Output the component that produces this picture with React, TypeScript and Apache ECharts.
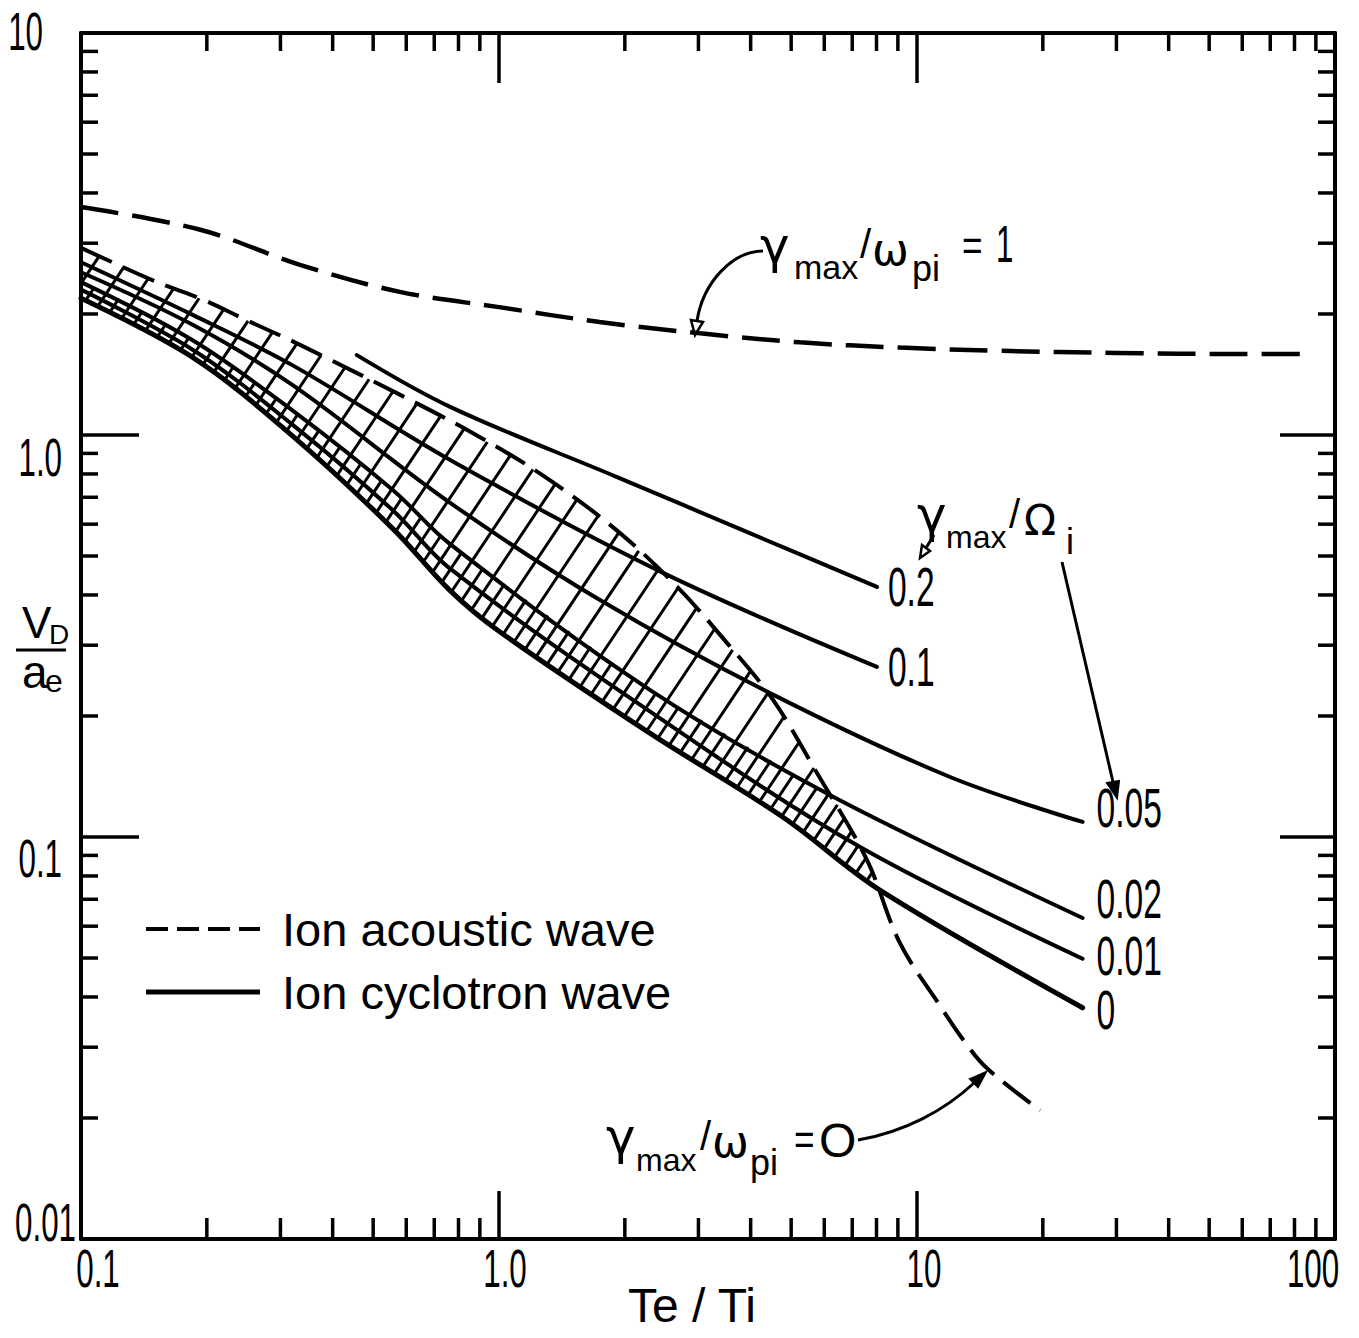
import React, { useEffect, useRef } from 'react';
import * as echarts from 'echarts';

// ---------- axis ticks ----------
const xMajorTicks = [0.1, 1, 10, 100];
const xTickLabels = ['0.1', '1.0', '10', '100'];
const yMajorTicks = [0.01, 0.1, 1, 10];
const yTickLabels = ['0.01', '0.1', '1.0', '10'];
const xMinorTicks = [0.2, 0.3, 0.4, 0.5, 0.6, 0.7, 0.8, 0.9, 2, 3, 4, 5, 6, 7, 8, 9, 20, 30, 40, 50, 60, 70, 80, 90];
const yMinorTicks = [0.02, 0.03, 0.04, 0.05, 0.06, 0.07, 0.08, 0.09, 0.2, 0.3, 0.4, 0.5, 0.6, 0.7, 0.8, 0.9, 2, 3, 4, 5, 6, 7, 8, 9];

// ---------- Ion acoustic wave, gamma_max/omega_pi = 1 ----------
const iaOneTeTi = [0.1, 0.193, 0.334, 0.579, 1.0, 1.74, 3.03, 5.25, 9.1, 15.8, 30, 60, 85];
const iaOneVd = [3.69, 3.24, 2.65, 2.27, 2.08, 1.91, 1.79, 1.7, 1.65, 1.62, 1.6, 1.59, 1.59];

// ---------- Ion acoustic wave, gamma_max/omega_pi = 0 ----------
const iaZeroTeTi = [0.1, 0.152, 0.196, 0.249, 0.321, 0.394, 0.579, 0.852, 1.27, 1.91, 2.67, 3.51, 4.53, 5.77, 7.59, 9.1, 11.4, 12.9, 14.7, 19.7];
const iaZeroVd = [2.92, 2.4, 2.17, 1.93, 1.71, 1.54, 1.26, 1.02, 0.795, 0.58, 0.419, 0.304, 0.219, 0.144, 0.0877, 0.0545, 0.0378, 0.0313, 0.0266, 0.0209];

// ---------- Ion cyclotron wave, gamma_max/Omega_i ----------
const icLabels = ['0.2', '0.1', '0.05', '0.02', '0.01', '0'];
const ic02TeTi = [0.457, 0.764, 1.91, 3.98, 8.02];
const ic02Vd = [1.58, 1.175, 0.787, 0.57, 0.419];
const ic01TeTi = [0.1, 0.185, 0.321, 0.764, 2.47, 8.02];
const ic01Vd = [2.69, 1.99, 1.49, 0.867, 0.454, 0.265];
const ic005TeTi = [0.1, 0.185, 0.321, 0.764, 1.74, 4.45, 12.0, 24.9];
const ic005Vd = [2.54, 1.88, 1.33, 0.678, 0.389, 0.228, 0.141, 0.109];
const ic002TeTi = [0.1, 0.185, 0.321, 0.557, 0.764, 2.3, 6.3, 24.9];
const ic002Vd = [2.4, 1.72, 1.15, 0.73, 0.535, 0.232, 0.126, 0.0629];
const ic001TeTi = [0.1, 0.185, 0.321, 0.557, 0.764, 2.3, 7.31, 24.9];
const ic001Vd = [2.3, 1.63, 1.06, 0.65, 0.465, 0.205, 0.0944, 0.0498];
const ic0TeTi = [0.1, 0.185, 0.321, 0.557, 0.764, 1.0, 2.3, 4.78, 8.15, 24.9];
const ic0Vd = [2.19, 1.56, 0.994, 0.585, 0.41, 0.325, 0.181, 0.112, 0.0738, 0.0376];

const zip = (xs: number[], ys: number[]) => xs.map((x, i) => [x, ys[i]]);

const FONT = "'Liberation Sans', Arial, sans-serif";
const GREEK = "'DejaVu Sans', 'Liberation Sans', sans-serif";

const HATCH_STEP = 32;
const HATCH_SLOPE = 1.5;

function clipLine(ax: number, ay: number, bx: number, by: number, poly: number[][]) {
  const dx = bx - ax, dy = by - ay;
  const ts: number[] = [];
  for (let i = 0; i < poly.length; i++) {
    const q = poly[i];
    const r = poly[(i + 1) % poly.length];
    const ex = r[0] - q[0], ey = r[1] - q[1];
    const den = dx * ey - dy * ex;
    if (Math.abs(den) < 1e-9) continue;
    const wx = q[0] - ax, wy = q[1] - ay;
    const t = (wx * ey - wy * ex) / den;
    const u = (wx * dy - wy * dx) / den;
    if (u >= 0 && u < 1) ts.push(t);
  }
  ts.sort((a, b) => a - b);
  const segs: number[][] = [];
  for (let i = 0; i + 1 < ts.length; i += 2) {
    const t0 = Math.max(0, ts[i]);
    const t1 = Math.min(1, ts[i + 1]);
    if (t1 > t0) segs.push([ax + dx * t0, ay + dy * t0, ax + dx * t1, ay + dy * t1]);
  }
  return segs;
}

function txt(text: string, x: number, y: number, size: number, family: string, align = 'left') {
  return {
    type: 'text',
    x,
    y,
    silent: true,
    style: {
      text,
      fill: '#000',
      fontSize: size,
      fontFamily: family,
      align,
      verticalAlign: 'middle',
      textAlign: align,
      textVerticalAlign: 'middle',
    },
  };
}

// narrow lettering, drawn as a text element squeezed horizontally
function narrowText(text: string, x: number, y: number, size: number, align: string, sx: number) {
  return {
    type: 'text',
    x,
    y,
    scaleX: sx,
    style: {
      text,
      fill: '#000',
      fontSize: size,
      fontFamily: FONT,
      align,
      verticalAlign: 'middle',
      textAlign: align,
      textVerticalAlign: 'middle',
    },
  };
}

function buildOption() {
  const regionPts = [
    ...zip(iaZeroTeTi, iaZeroVd).filter((p) => p[0] < 8),
    ...zip(ic0TeTi, ic0Vd).filter((p) => p[0] <= 8.15).reverse(),
  ];
  const bandPts = [
    ...zip(ic002TeTi, ic002Vd).filter((p) => p[0] <= 6.3),
    ...zip(iaZeroTeTi, iaZeroVd).filter((p) => p[0] > 6.3 && p[0] < 8),
    ...zip(ic0TeTi, ic0Vd).filter((p) => p[0] <= 8.15).reverse(),
  ];

  const black = '#000';
  const axisBase = {
    type: 'log',
    logBase: 10,
    splitLine: { show: false },
    axisLabel: { show: false },
    axisLine: { show: true, lineStyle: { color: black, width: 4 } },
  };

  const icData = [
    zip(ic02TeTi, ic02Vd),
    zip(ic01TeTi, ic01Vd),
    zip(ic005TeTi, ic005Vd),
    zip(ic002TeTi, ic002Vd),
    zip(ic001TeTi, ic001Vd),
    zip(ic0TeTi, ic0Vd),
  ];
  const icWidths = [4, 4, 4, 4, 4, 5];
  const icLabelShift = [[11, 0], [11, 0], [14, -14], [14, -19], [14, -3], [14, 2]];
  const icEnds = icData.map((d) => d[d.length - 1]);

  const xLabelShift = [17, 6, 7, -22];
  const yLabelShift = [[-5, -17], [-19, 21], [-19, 22], [-38, -2]];

  const icSeries = icData.map((data, i) => ({
    type: 'line',
    name: 'Ion cyclotron wave ' + icLabels[i],
    data,
    showSymbol: false,
    symbol: 'none',
    smooth: 0.35,
    silent: true,
    z: 3,
    lineStyle: { color: black, width: icWidths[i], cap: 'round', join: 'round' },
  }));

  const series: any[] = [
    {
      type: 'custom',
      name: 'hatch',
      coordinateSystem: 'cartesian2d',
      data: [[1, 1]],
      silent: true,
      z: 2,
      renderItem: (_params: any, api: any) => {
        const region = regionPts.map((p) => api.coord(p));
        const band = bandPts.map((p) => api.coord(p));
        const xs = region.map((p: number[]) => p[0]);
        const ys = region.map((p: number[]) => p[1]);
        const minX = Math.min(...xs) - 5;
        const maxX = Math.max(...xs) + 5;
        const minY = Math.min(...ys) - 5;
        const maxY = Math.max(...ys) + 5;
        const run = (maxY - minY) / HATCH_SLOPE;
        const children: any[] = [];
        const style = { stroke: black, lineWidth: 3 };
        let k = 0;
        for (let c = minX - run; c <= maxX; c += HATCH_STEP / 2, k++) {
          const poly = k % 2 === 0 ? region : band;
          for (const s of clipLine(c, maxY, c + run, minY, poly)) {
            children.push({ type: 'line', shape: { x1: s[0], y1: s[1], x2: s[2], y2: s[3] }, style });
          }
        }
        return { type: 'group', children };
      },
    },
    {
      type: 'line',
      name: 'Ion acoustic wave γmax/ωpi = 1',
      data: zip(iaOneTeTi, iaOneVd),
      showSymbol: false,
      symbol: 'none',
      smooth: 0.35,
      silent: true,
      z: 3,
      lineStyle: { color: black, width: 4.5, type: [38, 14], cap: 'butt' },
    },
    {
      type: 'line',
      name: 'Ion acoustic wave γmax/ωpi = 0',
      data: zip(iaZeroTeTi, iaZeroVd),
      showSymbol: false,
      symbol: 'none',
      smooth: 0.35,
      silent: true,
      z: 3,
      lineStyle: { color: black, width: 4, type: [34, 12], cap: 'butt' },
    },
    ...icSeries,
    {
      type: 'custom',
      name: 'curveLabels',
      coordinateSystem: 'cartesian2d',
      data: icEnds,
      silent: true,
      z: 6,
      renderItem: (params: any, api: any) => {
        const i = params.dataIndex;
        const p = api.coord([api.value(0), api.value(1)]);
        return narrowText(icLabels[i], p[0] + icLabelShift[i][0], p[1] + icLabelShift[i][1], 56, 'left', 0.6);
      },
    },
    {
      type: 'custom',
      name: 'xTickLabels',
      coordinateSystem: 'cartesian2d',
      data: xMajorTicks.map((v) => [v, yMajorTicks[0]]),
      silent: true,
      z: 6,
      renderItem: (params: any, api: any) => {
        const i = params.dataIndex;
        const p = api.coord([api.value(0), api.value(1)]);
        return narrowText(xTickLabels[i], p[0] + xLabelShift[i], p[1] + 29, 54, 'center', 0.58);
      },
    },
    {
      type: 'custom',
      name: 'yTickLabels',
      coordinateSystem: 'cartesian2d',
      data: yMajorTicks.map((v) => [xMajorTicks[0], v]),
      silent: true,
      z: 6,
      renderItem: (params: any, api: any) => {
        const i = params.dataIndex;
        const p = api.coord([api.value(0), api.value(1)]);
        return narrowText(yTickLabels[i], p[0] + yLabelShift[i][0], p[1] + yLabelShift[i][1], 54, 'right', 0.58);
      },
    },
    {
      type: 'custom',
      name: 'xMinorTicks',
      coordinateSystem: 'cartesian2d',
      data: xMinorTicks.map((v) => [v, 1]),
      silent: true,
      z: 5,
      renderItem: (_params: any, api: any) => {
        const v = api.value(0);
        const b = api.coord([v, yMajorTicks[0]]);
        const t = api.coord([v, yMajorTicks[yMajorTicks.length - 1]]);
        const st = { stroke: black, lineWidth: 3.5 };
        return {
          type: 'group',
          children: [
            { type: 'line', shape: { x1: b[0], y1: b[1], x2: b[0], y2: b[1] - 21 }, style: st },
            { type: 'line', shape: { x1: t[0], y1: t[1], x2: t[0], y2: t[1] + 18 }, style: st },
          ],
        };
      },
    },
    {
      type: 'custom',
      name: 'yMinorTicks',
      coordinateSystem: 'cartesian2d',
      data: yMinorTicks.map((v) => [1, v]),
      silent: true,
      z: 5,
      renderItem: (_params: any, api: any) => {
        const v = api.value(1);
        const l = api.coord([xMajorTicks[0], v]);
        const r = api.coord([xMajorTicks[xMajorTicks.length - 1], v]);
        const st = { stroke: black, lineWidth: 3.5 };
        return {
          type: 'group',
          children: [
            { type: 'line', shape: { x1: l[0], y1: l[1], x2: l[0] + 17, y2: l[1] }, style: st },
            { type: 'line', shape: { x1: r[0], y1: r[1], x2: r[0] - 17, y2: r[1] }, style: st },
          ],
        };
      },
    },
  ];

  const graphicEls: any[] = [
    // gamma_max / omega_pi = 1
    txt('γ', 760, 246, 50, GREEK),
    txt('max', 794, 267, 34, FONT),
    txt('/', 860, 244, 40, FONT),
    txt('ω', 872, 249, 44, GREEK),
    txt('pi', 912, 268, 36, FONT),
    narrowText('=', 962, 246, 44, 'left', 0.8),
    narrowText('1', 996, 244, 52, 'left', 0.6),
    { type: 'bezierCurve', silent: true, shape: { x1: 763, y1: 251, cpx1: 733, cpy1: 251, cpx2: 703, cpy2: 282, x2: 697, y2: 321 }, style: { stroke: '#000', lineWidth: 3, fill: 'none' } },
    { type: 'polygon', silent: true, shape: { points: [[695, 335], [703, 322], [691, 320]] }, style: { fill: '#fff', stroke: '#000', lineWidth: 2.5 } },
    // gamma_max / Omega_i
    txt('γ', 917, 515, 50, GREEK),
    txt('max', 946, 537, 32, FONT),
    txt('/', 1009, 514, 40, FONT),
    txt('Ω', 1024, 520, 42, GREEK),
    txt('i', 1066, 541, 36, FONT),
    { type: 'line', silent: true, shape: { x1: 934, y1: 535, x2: 926, y2: 548 }, style: { stroke: '#000', lineWidth: 3 } },
    { type: 'polygon', silent: true, shape: { points: [[920, 558], [930, 551], [922, 545]] }, style: { fill: '#fff', stroke: '#000', lineWidth: 2.5 } },
    { type: 'line', silent: true, shape: { x1: 1062, y1: 562, x2: 1113, y2: 782 }, style: { stroke: '#000', lineWidth: 3 } },
    { type: 'polygon', silent: true, shape: { points: [[1117, 798], [1119, 781], [1107, 783]] }, style: { fill: '#000', stroke: '#000', lineWidth: 2 } },
    // gamma_max / omega_pi = 0
    txt('γ', 606, 1137, 50, GREEK),
    txt('max', 636, 1160, 32, FONT),
    txt('/', 700, 1136, 40, FONT),
    txt('ω', 712, 1141, 44, GREEK),
    txt('pi', 750, 1162, 36, FONT),
    narrowText('=', 794, 1140, 44, 'left', 0.8),
    txt('O', 819, 1140, 48, FONT),
    { type: 'bezierCurve', silent: true, shape: { x1: 858, y1: 1140, cpx1: 905, cpy1: 1132, cpx2: 945, cpy2: 1110, x2: 974, y2: 1083 }, style: { stroke: '#000', lineWidth: 3, fill: 'none' } },
    { type: 'polygon', silent: true, shape: { points: [[986, 1072], [978, 1087], [970, 1079]] }, style: { fill: '#000', stroke: '#000', lineWidth: 2 } },
    // legend
    { type: 'line', silent: true, shape: { x1: 146, y1: 929, x2: 260, y2: 929 }, style: { stroke: '#000', lineWidth: 4, lineDash: [22, 9] } },
    txt('Ion acoustic wave', 282, 929, 47, FONT),
    { type: 'line', silent: true, shape: { x1: 146, y1: 992, x2: 260, y2: 992 }, style: { stroke: '#000', lineWidth: 5 } },
    txt('Ion cyclotron wave', 282, 992, 47, FONT),
    // y axis title V_D / a_e
    txt('V', 22, 622, 44, FONT),
    txt('D', 49, 634, 28, FONT),
    { type: 'line', silent: true, shape: { x1: 16, y1: 650, x2: 66, y2: 650 }, style: { stroke: '#000', lineWidth: 3 } },
    txt('a', 22, 672, 46, FONT),
    txt('e', 45, 681, 32, FONT),
    // x axis title
    txt('Te / Ti', 692, 1305, 48, FONT, 'center'),
  ];

  return {
    animation: false,
    backgroundColor: '#fff',
    textStyle: { fontFamily: FONT },
    grid: { left: 81, right: 24, top: 33, bottom: 99, containLabel: false },
    xAxis: [
      {
        ...axisBase,
        min: 0.1,
        max: 100,
        position: 'bottom',
        axisTick: { show: true, inside: true, length: 48, lineStyle: { color: black, width: 3.5 } },
      },
      {
        ...axisBase,
        min: 0.1,
        max: 100,
        position: 'top',
        axisTick: { show: true, inside: true, length: 50, lineStyle: { color: black, width: 3.5 } },
      },
    ],
    yAxis: [
      {
        ...axisBase,
        min: 0.01,
        max: 10,
        position: 'left',
        axisTick: { show: true, inside: true, length: 58, lineStyle: { color: black, width: 3.5 } },
      },
      {
        ...axisBase,
        min: 0.01,
        max: 10,
        position: 'right',
        axisTick: { show: true, inside: true, length: 55, lineStyle: { color: black, width: 3.5 } },
      },
    ],
    series,
    graphic: { elements: graphicEls },
  };
}

export default function App() {
  const ref = useRef<HTMLDivElement>(null);
  useEffect(() => {
    document.body.style.margin = '0';
    if (!ref.current) return;
    const chart = echarts.init(ref.current, null, { renderer: 'svg' });
    chart.setOption(buildOption() as any);
    return () => chart.dispose();
  }, []);
  return <div ref={ref} style={{ width: 1359, height: 1338, overflow: 'hidden' }} />;
}
